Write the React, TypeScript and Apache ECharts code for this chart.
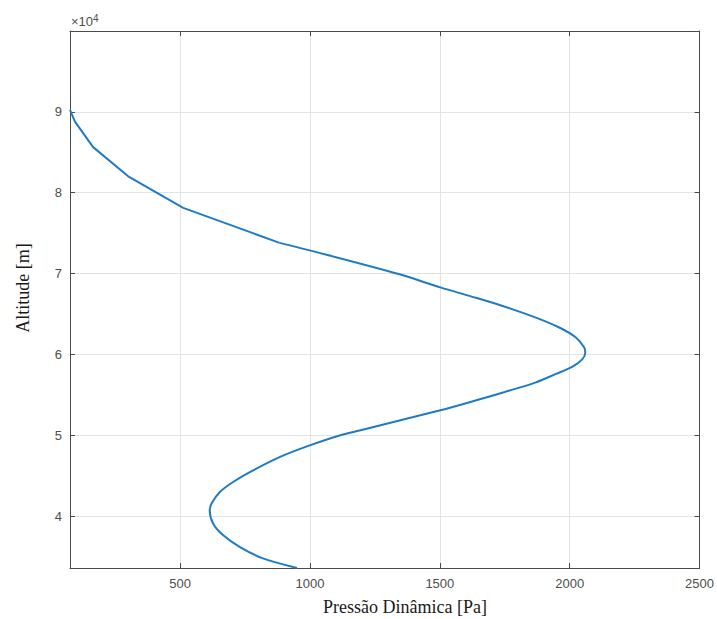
import React, { useEffect, useRef } from "react";
import * as echarts from "echarts";

// upper part of the profile (coarse, drawn as a polyline in the reference)
const pressureTop = [76, 95, 165, 300, 512, 883];
const altitudeTop = [90250, 88800, 85640, 82030, 78120, 73800];
// rest of the profile (finely sampled, smooth)
const pressureLow = [883, 999, 1345, 1505, 1614, 1742, 1870, 1960, 2024, 2056, 2060, 2049, 2011, 1947, 1870, 1750, 1640, 1498, 1191, 1114, 999, 883, 781, 704, 653, 621, 614, 627, 665, 729, 819, 950];
const altitudeLow = [73800, 72870, 69910, 68260, 67240, 66000, 64560, 63330, 62100, 60860, 60250, 59430, 58490, 57590, 56550, 55360, 54330, 53060, 50600, 49980, 48750, 47310, 45670, 44230, 42990, 41560, 40740, 39100, 37660, 36210, 34780, 33600];

const xMin = 76;
const xMax = 2500;
const yMin = 33590;
const yMax = 100000;

const xTitle = "Pressão Dinâmica [Pa]";
const yTitle = "Altitude [m]";

export default function App() {
  const ref = useRef<HTMLDivElement>(null);
  useEffect(() => {
    if (!ref.current) return;
    const chart = echarts.init(ref.current, null, { renderer: "svg" });
    const dataTop = pressureTop.map((p, i) => [p, altitudeTop[i]]);
    const dataLow = pressureLow.map((p, i) => [p, altitudeLow[i]]);
    const axisColor = "#4a4a4a";
    const labelColor = "#4d4d4d";
    const gridColor = "#e3e3e3";
    const lineColor = "#1f7bc4";
    const common = {
      axisLine: { show: true, onZero: false, lineStyle: { color: axisColor, width: 1 } },
      axisTick: { show: true, inside: true, length: 5, lineStyle: { color: axisColor } },
    };
    chart.setOption({
      animation: false,
      backgroundColor: "#ffffff",
      grid: { left: 70, top: 31, width: 630, height: 537, containLabel: false },
      xAxis: [
        {
          type: "value",
          min: xMin,
          max: xMax,
          splitNumber: 5,
          position: "bottom",
          ...common,
          axisLabel: {
            color: labelColor,
            fontSize: 13,
            fontFamily: "Liberation Sans, Arial, sans-serif",
            margin: 9,
            showMinLabel: false,
            formatter: (v: number) => (v % 500 === 0 ? String(v) : ""),
          },
          splitLine: { show: true, lineStyle: { color: gridColor, width: 1 } },
        },
        {
          type: "value",
          min: xMin,
          max: xMax,
          splitNumber: 5,
          position: "top",
          ...common,
          axisLabel: { show: false },
          splitLine: { show: false },
        },
      ],
      yAxis: [
        {
          type: "value",
          min: yMin,
          max: yMax,
          splitNumber: 5,
          position: "left",
          ...common,
          axisLabel: {
            color: labelColor,
            fontSize: 13,
            fontFamily: "Liberation Sans, Arial, sans-serif",
            margin: 8,
            showMinLabel: false,
            showMaxLabel: false,
            formatter: (v: number) => (v % 10000 === 0 ? String(v / 10000) : ""),
          },
          splitLine: { show: true, lineStyle: { color: gridColor, width: 1 } },
        },
        {
          type: "value",
          min: yMin,
          max: yMax,
          splitNumber: 5,
          position: "right",
          ...common,
          axisLabel: { show: false },
          splitLine: { show: false },
        },
      ],
      graphic: [
        {
          type: "text",
          left: 71,
          top: 13,
          style: {
            text: "×10{s|4}",
            fontSize: 13,
            fontFamily: "Liberation Sans, Arial, sans-serif",
            fill: labelColor,
            rich: { s: { fontSize: 10, verticalAlign: "top", padding: [0, 0, 7, 0], fill: labelColor } },
          },
        },
        {
          type: "text",
          x: 405,
          y: 607,
          style: {
            text: xTitle,
            fontSize: 18,
            fontFamily: "Liberation Serif, Times New Roman, serif",
            fill: "#1a1a1a",
            align: "center",
            verticalAlign: "middle",
          },
        },
        {
          type: "text",
          x: 23,
          y: 288,
          rotation: Math.PI / 2,
          style: {
            text: yTitle,
            fontSize: 18,
            fontFamily: "Liberation Serif, Times New Roman, serif",
            fill: "#1a1a1a",
            align: "center",
            verticalAlign: "middle",
          },
        },
      ],
      series: [
        {
          type: "line",
          xAxisIndex: 0,
          yAxisIndex: 0,
          data: dataTop,
          showSymbol: false,
          smooth: false,
          lineStyle: { color: lineColor, width: 2 },
        },
        {
          type: "line",
          xAxisIndex: 0,
          yAxisIndex: 0,
          data: dataLow,
          showSymbol: false,
          smooth: 0.3,
          lineStyle: { color: lineColor, width: 2 },
        },
      ],
    });
    return () => chart.dispose();
  }, []);
  return (
    <div
      ref={ref}
      style={{ position: "fixed", left: 0, top: 0, width: 717, height: 619 }}
    />
  );
}
